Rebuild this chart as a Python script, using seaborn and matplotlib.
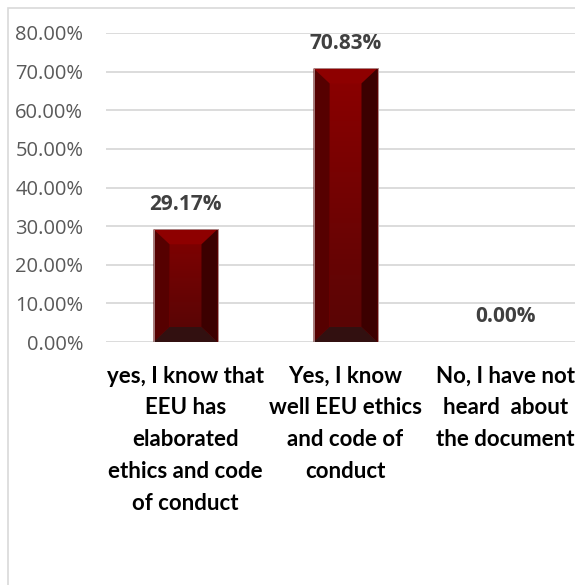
import numpy as np
import pandas as pd
import matplotlib
matplotlib.use("Agg")
import matplotlib.pyplot as plt
import seaborn as sns
from matplotlib.patches import Polygon, Rectangle
from matplotlib.ticker import PercentFormatter
from matplotlib.colors import LinearSegmentedColormap

# Survey answers and their shares (%)
categories = [
    "yes, I know that\nEEU has\nelaborated\nethics and code\nof conduct",
    "Yes, I know\nwell EEU ethics\nand code of\nconduct",
    "No, I have not\nheard  about\nthe document",
]
values = [29.17, 70.83, 0.00]
value_labels = ["29.17%", "70.83%", "0.00%"]
y_ticks = [0, 10, 20, 30, 40, 50, 60, 70, 80]

sns.set_style("white")
plt.rcParams["font.family"] = ["Open Sans", "DejaVu Sans"]

W, H = 575, 585
fig = plt.figure(figsize=(W / 100, H / 100), dpi=100)

# light outer chart frame
fig.patches.append(Rectangle((8 / W, -0.1), 1.2, 1 - 8 / H + 0.1,
                             transform=fig.transFigure, fill=False,
                             edgecolor="#d9d9d9", linewidth=1.2))

ax = fig.add_axes([105.5 / W, 243 / H, 480 / W, 309 / H])
df = pd.DataFrame({"answer": categories, "share": values})
sns.barplot(data=df, x="answer", y="share", color="#7a0000", width=0.4,
            ax=ax, edgecolor="#b09090", linewidth=0.6, saturation=1)

ax.set_ylim(0, 80)
ax.set_xlim(-0.5, 2.5)
ax.set_yticks(y_ticks)
ax.yaxis.set_major_formatter(PercentFormatter(xmax=100, decimals=2))
ax.grid(axis="y", color="#d9d9d9", linewidth=1.3)
ax.set_axisbelow(True)
for s in ax.spines.values():
    s.set_visible(False)
ax.set_xlabel("")
ax.set_ylabel("")
ax.tick_params(axis="y", length=0, pad=16, labelsize=14.5, labelcolor="#595959")
ax.tick_params(axis="x", length=0, pad=17)
for lab in ax.get_xticklabels():
    lab.set_fontfamily(["Lato", "DejaVu Sans"])
    lab.set_fontweight("bold")
    lab.set_fontsize(16)
    lab.set_linespacing(1.64)
    lab.set_color("black")

# bevelled look on each bar
face_cmap = LinearSegmentedColormap.from_list("face", ["#5a0505", "#8c0000"])
bx = 16 / 160          # side bevel width in data units
by = 15 / (309 / 80)   # top/bottom bevel height in data units
for bar in list(ax.patches):
    x0, w, h = bar.get_x(), bar.get_width(), bar.get_height()
    x1 = x0 + w
    if h <= 2 * by:
        continue
    ix0, ix1, iy0, iy1 = x0 + bx, x1 - bx, by, h - by
    ax.imshow(np.linspace(1, 0, 100).reshape(-1, 1) * (0.5 + 0.5 * h / 80),
              cmap=face_cmap, vmin=0, vmax=1, aspect="auto",
              extent=(ix0, ix1, iy0, iy1), zorder=3, interpolation="bilinear")
    bevels = [
        ([(x0, h), (x1, h), (ix1, iy1), (ix0, iy1)], "#8e0000"),
        ([(x0, 0), (ix0, iy0), (ix0, iy1), (x0, h)], "#560000"),
        ([(x1, 0), (x1, h), (ix1, iy1), (ix1, iy0)], "#3c0000"),
        ([(x0, 0), (x1, 0), (ix1, iy0), (ix0, iy0)], "#321010"),
    ]
    for pts, col in bevels:
        ax.add_patch(Polygon(pts, closed=True, facecolor=col, edgecolor="none", zorder=3))
    ax.add_patch(Rectangle((x0, 0), w, h, fill=False, edgecolor="#b09090",
                           linewidth=0.6, zorder=4))

# value labels above the bars
for i, (v, txt) in enumerate(zip(values, value_labels)):
    ax.annotate(txt, (i, v), xytext=(0, 25), textcoords="offset pixels",
                ha="center", va="center", fontsize=15, fontweight="bold",
                color="#404040", annotation_clip=False)

ax.set_ylim(0, 80)
ax.set_xlim(-0.5, 2.5)
fig.savefig("out.png", dpi=100)
